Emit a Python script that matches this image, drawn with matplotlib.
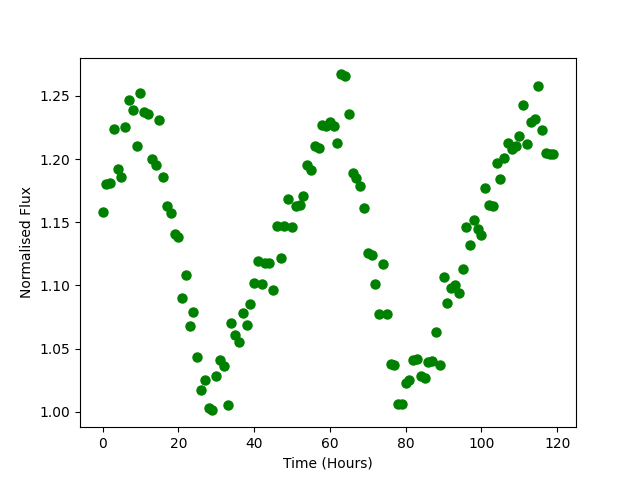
import matplotlib
matplotlib.use("Agg")
import matplotlib.pyplot as plt

# 每小时一个测量点，0 到 119 小时
hours = list(range(120))

flux = [
    1.158, 1.180, 1.181, 1.224, 1.192, 1.186, 1.225, 1.247, 1.239, 1.210,
    1.252, 1.237, 1.236, 1.200, 1.195, 1.231, 1.186, 1.163, 1.157, 1.141,
    1.138, 1.090, 1.108, 1.068, 1.079, 1.043, 1.017, 1.025, 1.003, 1.001,
    1.028, 1.041, 1.036, 1.005, 1.070, 1.061, 1.055, 1.078, 1.069, 1.085,
    1.102, 1.119, 1.101, 1.118, 1.118, 1.096, 1.147, 1.122, 1.147, 1.168,
    1.146, 1.163, 1.164, 1.171, 1.195, 1.191, 1.210, 1.209, 1.227, 1.226,
    1.229, 1.226, 1.213, 1.267, 1.266, 1.236, 1.189, 1.185, 1.179, 1.161,
    1.126, 1.124, 1.101, 1.077, 1.117, 1.077, 1.038, 1.037, 1.006, 1.006,
    1.023, 1.025, 1.041, 1.042, 1.028, 1.027, 1.039, 1.040, 1.063, 1.037,
    1.107, 1.086, 1.098, 1.100, 1.094, 1.113, 1.146, 1.132, 1.152, 1.145,
    1.140, 1.177, 1.164, 1.163, 1.197, 1.184, 1.201, 1.213, 1.208, 1.210,
    1.218, 1.243, 1.212, 1.229, 1.232, 1.258, 1.223, 1.205, 1.204, 1.204,
]

fig, ax = plt.subplots(figsize=(6.4, 4.8), dpi=100)
ax.plot(hours, flux, "o", color="green", markersize=6.5)
ax.set_xlabel("Time (Hours)")
ax.set_ylabel("Normalised Flux")

fig.savefig("out.png")
